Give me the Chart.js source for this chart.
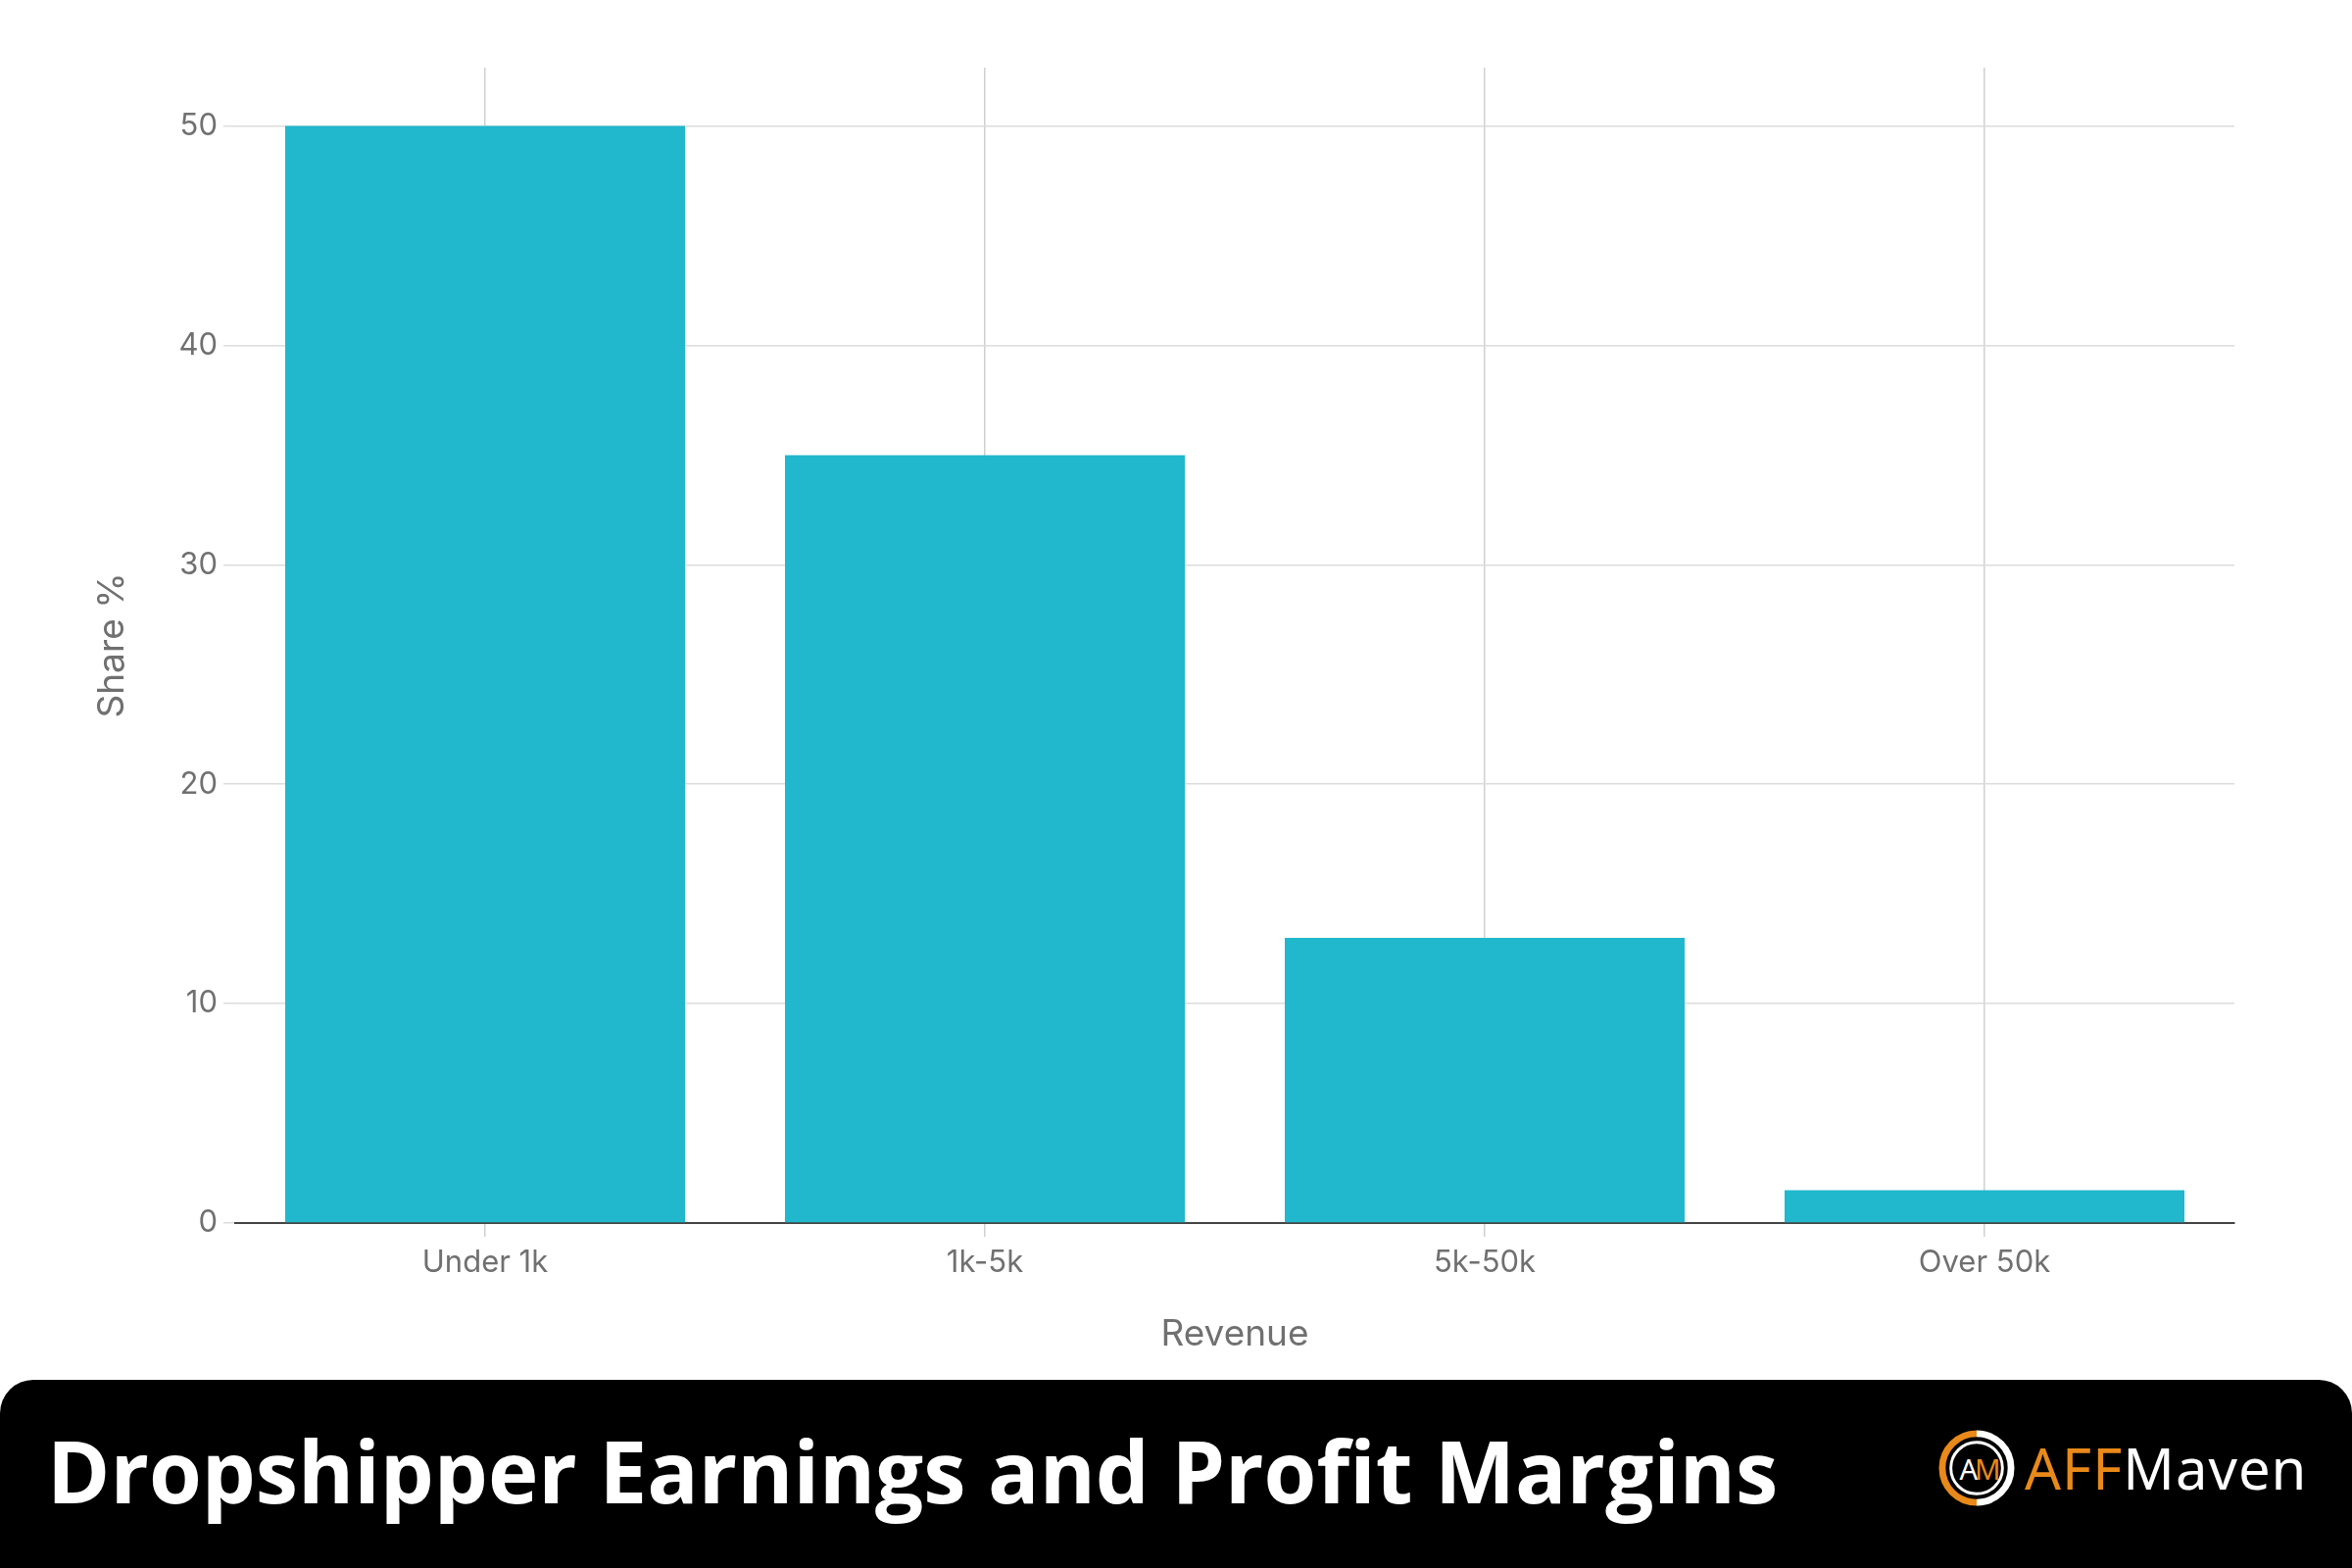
<!DOCTYPE html>
<html>
<head>
<meta charset="utf-8">
<script src="https://cdn.jsdelivr.net/npm/chart.js@4"></script>
<style>
  html, body { margin: 0; padding: 0; background: #fff; }
  #wrap { position: relative; width: 2400px; height: 1600px; overflow: hidden; }
  #chartBox { position: absolute; left: 0; top: 0; width: 2400px; height: 1408px; }
  #footer {
    position: absolute; left: 0; top: 1408px; width: 2400px; height: 192px;
    background: #000; border-radius: 34px 34px 0 0;
  }
  #title {
    position: absolute; left: 48px; top: 32px;
    font-family: "Open Sans", "Noto Sans", sans-serif; font-weight: 700;
    font-size: 87px; line-height: 120px; color: #fff; white-space: nowrap;
  }
  #logo { position: absolute; left: 1978px; top: 48px; height: 84px; display: flex; align-items: center; }
  #logo span.brand {
    font-family: "Noto Sans", sans-serif; font-weight: 400; font-size: 58px;
    line-height: 84px; margin-left: 10px; letter-spacing: 1px;
  }
  .orange { color: #e8891a; }
  .white { color: #fff; }
</style>
</head>
<body>
<div id="wrap">
  <div id="chartBox"><canvas id="revenueChart"></canvas></div>
  <div id="footer">
    <div id="title">Dropshipper Earnings and Profit Margins</div>
    <div id="logo">
      <svg width="78" height="78" viewBox="0 0 80 80">
        <path d="M40 4 A36 36 0 0 0 40 76" fill="none" stroke="#e8891a" stroke-width="7"/>
        <path d="M40 4 A36 36 0 0 1 40 76" fill="none" stroke="#fff" stroke-width="7"/>
        <circle cx="40" cy="40" r="27" fill="none" stroke="#fff" stroke-width="3"/>
        <text x="22" y="52" font-family="Noto Sans" font-size="30" fill="#fff">A</text>
        <text x="38" y="52" font-family="Noto Sans" font-size="30" fill="#e8891a">M</text>
      </svg>
      <span class="brand"><span class="orange">AFF</span><span class="white">Maven</span></span>
    </div>
  </div>
</div>
<script>
const revenueBands = ["Under 1k", "1k-5k", "5k-50k", "Over 50k"];
const sharePct = [50, 35, 13, 1.5];
const yTickValues = [0, 10, 20, 30, 40, 50];

const tickFont = { family: "Inter, 'Liberation Sans', sans-serif", size: 31 };
const titleFont = { family: "Inter, 'Liberation Sans', sans-serif", size: 37 };

new Chart(document.getElementById("revenueChart"), {
    type: "bar",
    data: {
        labels: revenueBands,
        datasets: [{
            data: sharePct,
            backgroundColor: "#21b7cc",
            borderWidth: 0,
            categoryPercentage: 1,
            barPercentage: 0.8
        }]
    },
    options: {
        responsive: true,
        maintainAspectRatio: false,
        animation: false,
        layout: { padding: { left: 0, right: 120, top: 69, bottom: 0 } },
        plugins: { legend: { display: false }, tooltip: { enabled: false } },
        scales: {
            x: {
                grid: { offset: false, color: "#d0d0d0", lineWidth: 1.5, tickLength: 14 },
                border: { display: true, color: "#444", width: 2 },
                ticks: { color: "#707070", font: tickFont, padding: 8 },
                title: { display: true, text: "Revenue", color: "#707070", font: titleFont, padding: { top: 0, bottom: 24 } },
                afterFit: axis => { axis.height = 160; }
            },
            y: {
                min: 0,
                max: 52.66,
                afterBuildTicks: axis => { axis.ticks = yTickValues.map(v => ({ value: v })); },
                grid: { color: "#dcdcdc", lineWidth: 1.5, tickLength: 12 },
                border: { display: false },
                ticks: { color: "#707070", font: tickFont, padding: 6 },
                title: { display: true, text: "Share %", color: "#707070", font: titleFont, padding: { top: 93, bottom: 0 } },
                afterFit: axis => { axis.width = 240; }
            }
        }
    }
});
</script>
</body>
</html>
